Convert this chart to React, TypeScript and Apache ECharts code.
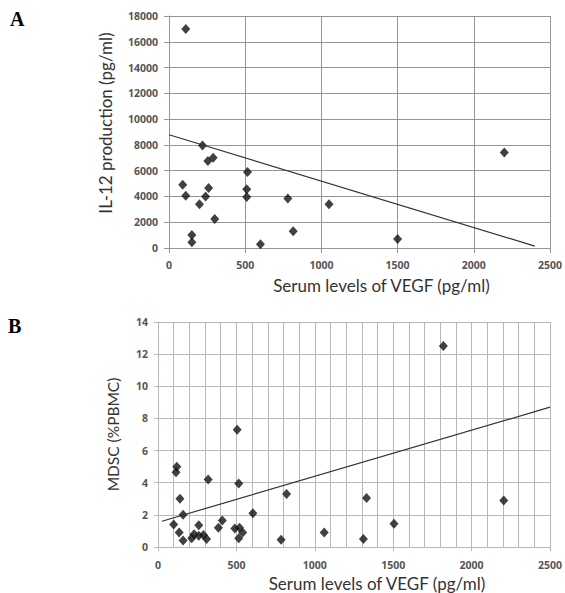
import React, { useEffect, useRef } from "react";
import * as echarts from "echarts";

// Panel A: VEGF (pg/ml) vs IL-12 production (pg/ml)
const vegfA = [110, 90, 110, 150, 150, 200, 220, 240, 255, 260, 290, 300, 515, 510, 510, 600, 780, 815, 1050, 1500, 2200];
const il12A = [17000, 4900, 4050, 1000, 450, 3400, 7950, 4000, 6750, 4650, 7000, 2250, 5900, 4550, 3950, 300, 3850, 1300, 3400, 700, 7400];
const trendA = [[0, 8790], [2400, 150]];

// Panel B: VEGF (pg/ml) vs MDSC (%PBMC)
const vegfB = [100, 120, 115, 135, 140, 160, 160, 215, 230, 260, 260, 290, 310, 320, 385, 410, 490, 505, 515, 515, 520, 540, 605, 785, 820, 1060, 1310, 1330, 1505, 1820, 2205];
const mdscB = [1.4, 5.0, 4.65, 0.9, 3.0, 2.0, 0.4, 0.55, 0.8, 1.35, 0.7, 0.75, 0.5, 4.2, 1.2, 1.65, 1.15, 7.3, 3.95, 0.55, 1.2, 0.9, 2.1, 0.45, 3.3, 0.9, 0.5, 3.05, 1.45, 12.5, 2.9];
const trendB = [[25, 1.6], [2500, 8.7]];

const xNameA = "Serum levels of VEGF (pg/ml)";
const yNameA = "IL-12 production (pg/ml)";
const xNameB = "Serum levels of VEGF (pg/ml)";
const yNameB = "MDSC (%PBMC)";

const nameFont = "Lato, 'Open Sans', sans-serif";
const tickFont = "'Open Sans', sans-serif";

export default function App() {
  const ref = useRef<HTMLDivElement>(null);
  useEffect(() => {
    if (!ref.current) return;
    const chart = echarts.init(ref.current, null, { renderer: "svg" });
    const gridA = "#959595";
    const gridB = "#b8b8b8";
    const plain = (v: number) => String(v);
    const tickLabel = { fontFamily: tickFont, fontSize: 10.5, color: "#555", fontWeight: "bold" as const, formatter: plain };
    const nameStyle = { fontFamily: nameFont, fontSize: 17, color: "#333" };
    chart.setOption({
      animation: false,
      backgroundColor: "#fff",
      grid: [
        { left: 169, right: 14, top: 16, bottom: 345 },
        { left: 158, right: 12, top: 322, bottom: 45 },
      ],
      xAxis: [
        {
          gridIndex: 0, type: "value", min: 0, max: 2500, interval: 500,
          name: xNameA, nameLocation: "middle", nameGap: 29,
          nameTextStyle: { ...nameStyle, padding: [0, 0, 0, 44] },
          axisLine: { show: true, lineStyle: { color: gridA, width: 1 } },
          axisTick: { show: true, length: 5, lineStyle: { color: gridA } },
          axisLabel: { ...tickLabel, margin: 11 },
          splitLine: { show: true, lineStyle: { color: gridA, width: 1 } },
        },
        {
          gridIndex: 1, type: "value", min: 0, max: 2500, interval: 500,
          name: xNameB, nameLocation: "middle", nameGap: 28,
          nameTextStyle: { ...nameStyle, padding: [0, 0, 0, 46] },
          axisLine: { show: true, lineStyle: { color: gridB, width: 1 } },
          axisTick: { show: true, length: 4, lineStyle: { color: gridB } },
          axisLabel: { ...tickLabel, margin: 12 },
          splitLine: { show: true, lineStyle: { color: gridB, width: 1 } },
          minorTick: { show: false, splitNumber: 5 },
          minorSplitLine: { show: true, lineStyle: { color: gridB, width: 1 } },
        },
      ],
      yAxis: [
        {
          gridIndex: 0, type: "value", min: 0, max: 18000, interval: 2000,
          name: yNameA, nameLocation: "middle", nameGap: 55,
          nameTextStyle: { ...nameStyle, padding: [0, 0, 0, 18] },
          axisLine: { show: true, lineStyle: { color: gridA, width: 1 } },
          axisTick: { show: true, length: 5, lineStyle: { color: gridA } },
          axisLabel: { ...tickLabel, margin: 11 },
          splitLine: { show: true, lineStyle: { color: gridA, width: 1 } },
        },
        {
          gridIndex: 1, type: "value", min: 0, max: 14, interval: 2,
          name: yNameB, nameLocation: "middle", nameGap: 37,
          nameTextStyle: { ...nameStyle, fontSize: 15.5 },
          axisLine: { show: true, lineStyle: { color: gridB, width: 1 } },
          axisTick: { show: true, length: 4, lineStyle: { color: gridB } },
          axisLabel: { ...tickLabel, margin: 10 },
          splitLine: { show: true, lineStyle: { color: gridB, width: 1 } },
        },
      ],
      series: [
        {
          type: "scatter", xAxisIndex: 0, yAxisIndex: 0,
          data: vegfA.map((x, i) => [x, il12A[i]]),
          symbol: "diamond", symbolSize: [9, 10],
          itemStyle: { color: "#111" },
        },
        {
          type: "line", xAxisIndex: 0, yAxisIndex: 0, data: trendA,
          showSymbol: false, symbol: "none",
          lineStyle: { color: "#333", width: 1.2 },
        },
        {
          type: "scatter", xAxisIndex: 1, yAxisIndex: 1,
          data: vegfB.map((x, i) => [x, mdscB[i]]),
          symbol: "diamond", symbolSize: [9, 10],
          itemStyle: { color: "#111" },
        },
        {
          type: "line", xAxisIndex: 1, yAxisIndex: 1, data: trendB,
          showSymbol: false, symbol: "none",
          lineStyle: { color: "#333", width: 1.2 },
        },
      ],
      graphic: [
        {
          type: "text", left: 10, top: 9,
          style: { text: "A", font: "bold 20px 'Liberation Serif', serif", fill: "#000" },
        },
        {
          type: "text", left: 8, top: 316,
          style: { text: "B", font: "bold 20px 'Liberation Serif', serif", fill: "#000" },
        },
      ],
    });
    return () => chart.dispose();
  }, []);
  return (
    <div
      ref={ref}
      style={{ position: "absolute", left: 0, top: 0, width: 565, height: 593 }}
    />
  );
}
